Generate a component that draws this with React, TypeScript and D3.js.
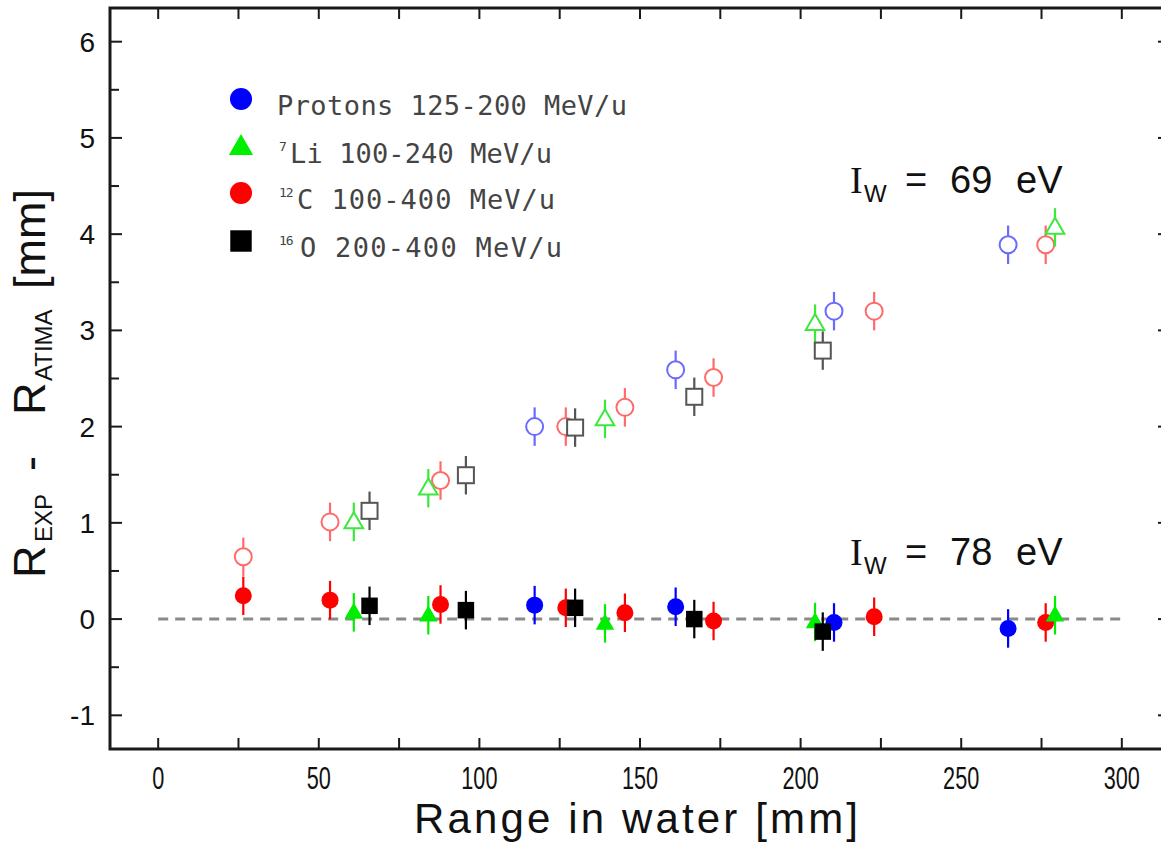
import React from 'react';
import * as d3 from 'd3';

// Range in water [mm] of each measured point, per ion species
const protonRange = [117.2, 161.1, 210.4, 264.6];
const lithiumRange = [60.9, 84.1, 139.1, 204.5, 279.2];
const carbonRange = [26.5, 53.5, 87.9, 126.9, 145.3, 172.9, 222.9, 276.3];
const oxygenRange = [65.8, 95.8, 129.8, 166.9, 206.9];

// R_EXP - R_ATIMA [mm] computed with I_w = 69 eV (open markers)
const protonIw69 = [2.0, 2.59, 3.2, 3.89];
const lithiumIw69 = [1.01, 1.36, 2.08, 3.07, 4.07];
const carbonIw69 = [0.647, 1.01, 1.44, 2.0, 2.2, 2.51, 3.2, 3.89];
const oxygenIw69 = [1.125, 1.495, 1.99, 2.31, 2.79];

// R_EXP - R_ATIMA [mm] computed with I_w = 78 eV (filled markers)
const protonIw78 = [0.145, 0.128, -0.035, -0.097];
const lithiumIw78 = [0.07, 0.04, -0.045, -0.03, 0.04];
const carbonIw78 = [0.242, 0.197, 0.152, 0.117, 0.066, -0.02, 0.024, -0.035];
const oxygenIw78 = [0.138, 0.093, 0.117, 0.0, -0.13];

const errorMm = 0.2;

const xTicks = [0, 50, 100, 150, 200, 250, 300];
const xMinorTicks = [25, 75, 125, 175, 225, 275];
const yTicks = [-1, 0, 1, 2, 3, 4, 5, 6];
const yMinorTicks = [-0.5, 0.5, 1.5, 2.5, 3.5, 4.5, 5.5];

type Shape = 'circle' | 'triangle' | 'square';

interface Series {
  sup: string;
  label: string;
  range: number[];
  iw69: number[];
  iw78: number[];
  color: string;
  light: string;
  shape: Shape;
}

const series: Series[] = [
  { sup: '', label: 'Protons 125-200 MeV/u', range: protonRange, iw69: protonIw69, iw78: protonIw78, color: '#0000ff', light: '#6a6aff', shape: 'circle' },
  { sup: '12', label: 'C 100-400 MeV/u', range: carbonRange, iw69: carbonIw69, iw78: carbonIw78, color: '#ff0000', light: '#ff6a6a', shape: 'circle' },
  { sup: '7', label: 'Li 100-240 MeV/u', range: lithiumRange, iw69: lithiumIw69, iw78: lithiumIw78, color: '#00ee00', light: '#3ce83c', shape: 'triangle' },
  { sup: '16', label: 'O 200-400 MeV/u', range: oxygenRange, iw69: oxygenIw69, iw78: oxygenIw78, color: '#000000', light: '#555555', shape: 'square' },
];
const legendOrder = [0, 2, 1, 3];

const W = 1161;
const H = 849;
const left = 110, right = 1170, top = 8, bottom = 749;

const x = d3.scaleLinear().domain([-15, 315]).range([left, right]);
const y = d3.scaleLinear().domain([-1.35, 6.35]).range([bottom, top]);

function Marker({ shape, cx, cy, color, filled, scale = 1 }: { shape: Shape; cx: number; cy: number; color: string; filled: boolean; scale?: number }) {
  const fill = filled ? color : '#fff';
  const stroke = filled ? 'none' : color;
  if (shape === 'circle') {
    const r = 8.5 * scale;
    return <circle cx={cx} cy={cy} r={r} fill={fill} stroke={stroke} strokeWidth={2} />;
  }
  if (shape === 'square') {
    const s = (filled ? 16.5 : 16) * scale;
    return <rect x={cx - s / 2} y={cy - s / 2} width={s} height={s} fill={fill} stroke={stroke} strokeWidth={2} />;
  }
  const d = d3.symbol().type(d3.symbolTriangle).size(150 * scale * scale)()!;
  return <path d={d} transform={`translate(${cx},${cy + 1})`} fill={fill} stroke={stroke} strokeWidth={2} strokeLinejoin="miter" />;
}

function Points({ s, open }: { s: Series; open: boolean }) {
  const vals = open ? s.iw69 : s.iw78;
  const col = open ? s.light : s.color;
  return (
    <g>
      {s.range.map((r, i) => (
        <g key={i}>
          <line x1={x(r)} x2={x(r)} y1={y(vals[i] - errorMm)} y2={y(vals[i] + errorMm)} stroke={col} strokeWidth={2.2} />
          <Marker shape={s.shape} cx={x(r)} cy={y(vals[i])} color={col} filled={!open} />
        </g>
      ))}
    </g>
  );
}

export default function App() {
  const axisCol = '#1a1a1a';
  const legendRowY = [99, 147, 193, 241];
  const legendX = 241;
  const legendTextX = [277, 290, 297, 300];
  const legendTextLen = [350, 262, 258, 262];
  const legendSupX = [0, 279, 279, 279];

  return (
    <svg width={W} height={H} style={{ position: 'absolute', left: 0, top: 0, background: '#fff' }}>
      <rect width={W} height={H} fill="#fff" />

      {/* reference line at zero */}
      <line x1={x(0)} x2={x(300)} y1={y(0)} y2={y(0)} stroke="#8a8a8a" strokeWidth={3} strokeDasharray="10 7" />

      {/* open markers: I_w = 69 eV */}
      {series.map((s, i) => <Points key={'o' + i} s={s} open={true} />)}
      {/* filled markers: I_w = 78 eV */}
      {series.map((s, i) => <Points key={'f' + i} s={s} open={false} />)}

      {/* frame */}
      <rect x={left} y={top} width={right - left} height={bottom - top} fill="none" stroke={axisCol} strokeWidth={3} />

      {/* x ticks (bottom & top) */}
      {[...xTicks, ...xMinorTicks].map(t => (
        <g key={'xt' + t}>
          <line x1={x(t)} x2={x(t)} y1={bottom} y2={bottom - 11} stroke={axisCol} strokeWidth={2} />
          <line x1={x(t)} x2={x(t)} y1={top} y2={top + 11} stroke={axisCol} strokeWidth={2} />
        </g>
      ))}
      {xTicks.map(t => (
        <text key={'xl' + t} transform={`translate(${x(t)},789) scale(0.7,1)`} textAnchor="middle"
          fontFamily="Liberation Sans, Arial, sans-serif" fontSize={31} fill="#111">{t}</text>
      ))}

      {/* y ticks (left & right) */}
      {yTicks.map(t => (
        <g key={'yt' + t}>
          <line x1={left} x2={left + 12} y1={y(t)} y2={y(t)} stroke={axisCol} strokeWidth={2} />
          <line x1={right} x2={right - 12} y1={y(t)} y2={y(t)} stroke={axisCol} strokeWidth={2} />
          <text x={95} y={y(t) + 10} textAnchor="end" fontFamily="Liberation Sans, Arial, sans-serif" fontSize={28} fill="#111">{t < 0 ? '-' + Math.abs(t) : t}</text>
        </g>
      ))}
      {yMinorTicks.map(t => (
        <g key={'ym' + t}>
          <line x1={left} x2={left + 9} y1={y(t)} y2={y(t)} stroke={axisCol} strokeWidth={2} />
          <line x1={right} x2={right - 9} y1={y(t)} y2={y(t)} stroke={axisCol} strokeWidth={2} />
        </g>
      ))}

      {/* axis titles */}
      <text x={414} y={833} textLength={444} lengthAdjust="spacing" fontFamily="Liberation Sans, Arial, sans-serif" fontSize={42} fill="#111">Range in water [mm]</text>
      <text transform="translate(45,578) rotate(-90)" fontFamily="Liberation Sans, Arial, sans-serif" fontSize={45} fill="#111">
        <tspan x={0}>R</tspan>
        <tspan x={36} dy={7} fontSize={24}>EXP</tspan>
        <tspan x={107} dy={-7}>-</tspan>
        <tspan x={163}>R</tspan>
        <tspan x={197} dy={7} fontSize={24}>ATIMA</tspan>
        <tspan x={289} dy={-7}>[mm]</tspan>
      </text>

      {/* legend */}
      {legendOrder.map((si, row) => {
        const s = series[si];
        const cy = legendRowY[row];
        return (
          <g key={'lg' + si}>
            <Marker shape={s.shape} cx={legendX} cy={cy} color={s.color} filled={true} scale={1.3} />
            {s.sup && (
              <text x={legendSupX[row]} y={cy + 4} fontFamily="DejaVu Sans Mono, monospace" fontSize={13} letterSpacing={-1} fill="#444">{s.sup}</text>
            )}
            <text x={legendTextX[row]} y={cy + 16} textLength={legendTextLen[row]} lengthAdjust="spacing"
              fontFamily="DejaVu Sans Mono, monospace" fontSize={27} fill="#444">{s.label}</text>
          </g>
        );
      })}

      {/* I_w annotations */}
      {[{ v: '69', base: 193 }, { v: '78', base: 565 }].map(a => (
        <g key={a.v} fill="#111">
          <text x={850} y={a.base} fontFamily="Liberation Serif, serif" fontSize={38}>I</text>
          <text x={864} y={a.base + 9} fontFamily="Liberation Sans, Arial, sans-serif" fontSize={24}>W</text>
          <text x={905} y={a.base} fontFamily="Liberation Sans, Arial, sans-serif" fontSize={38}>=</text>
          <text x={950} y={a.base} fontFamily="Liberation Sans, Arial, sans-serif" fontSize={38}>{a.v}</text>
          <text x={1016} y={a.base} fontFamily="Liberation Sans, Arial, sans-serif" fontSize={38}>eV</text>
        </g>
      ))}
    </svg>
  );
}
